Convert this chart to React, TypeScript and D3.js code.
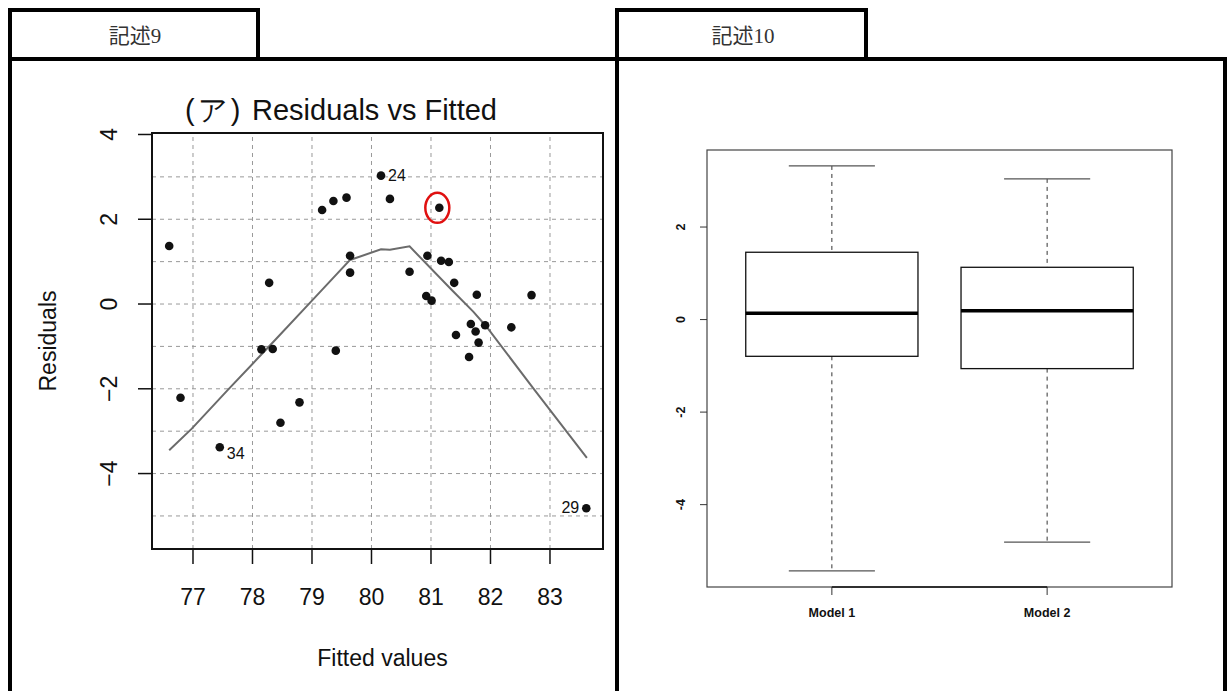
import React from "react";
import * as d3 from "d3";

// residuals vs fitted (left panel)
const fitted = [
  76.6, 76.79, 77.45, 78.15, 78.28, 78.34, 78.47, 78.79, 79.17, 79.36, 79.4,
  79.58, 79.64, 79.64, 80.16, 80.31, 80.64, 80.92, 80.94, 81.01, 81.14, 81.17,
  81.3, 81.39, 81.42, 81.64, 81.67, 81.75, 81.77, 81.8, 81.91, 82.35, 82.69,
  83.61,
];
const residuals = [
  1.37, -2.21, -3.38, -1.07, 0.5, -1.06, -2.8, -2.32, 2.22, 2.43, -1.1, 2.51,
  1.14, 0.74, 3.03, 2.48, 0.76, 0.19, 1.14, 0.08, 2.27, 1.02, 0.99, 0.5, -0.73,
  -1.25, -0.47, -0.65, 0.22, -0.91, -0.5, -0.55, 0.21, -4.82,
];
const pointLabels = [
  { i: 14, text: "24" },
  { i: 2, text: "34" },
  { i: 33, text: "29" },
];
const circled = 20;
const smoothX = [
  76.6, 76.98, 77.59, 78.38, 78.98, 79.64, 80.16, 80.31, 80.64, 81.35, 81.71,
  81.93, 82.72, 83.62,
];
const smoothY = [
  -3.45, -2.94, -2.02, -0.85, 0.05, 1.04, 1.29, 1.28, 1.36, 0.33, -0.18, -0.53,
  -1.99, -3.63,
];
const xTicksL = [77, 78, 79, 80, 81, 82, 83];
const yTicksL = [-4, -2, 0, 2, 4];
const yGridL = [-5, -4, -3, -2, -1, 0, 1, 2, 3];

// boxplot (right panel)
const models = ["Model 1", "Model 2"];
const whiskerHigh = [3.32, 3.04];
const q3 = [1.455, 1.13];
const medians = [0.136, 0.19];
const q1 = [-0.794, -1.06];
const whiskerLow = [-5.43, -4.81];
const yTicksR = [-4, -2, 0, 2];

const SANS = "'Liberation Sans', Arial, Helvetica, sans-serif";
const HEAD = "'Liberation Serif', 'Noto Sans CJK JP', serif";

const Frames = () => (
  <g fill="none" stroke="#000" strokeWidth={4}>
    <rect x={10} y={10} width={248} height={49} />
    <rect x={10} y={59} width={607} height={660} />
    <rect x={617} y={10} width={249} height={49} />
    <rect x={617} y={59} width={608} height={660} />
    <text x={135} y={43} fontFamily={HEAD} fontSize={21} fill="#333" stroke="none" textAnchor="middle">
      記述9
    </text>
    <text x={743} y={43} fontFamily={HEAD} fontSize={21} fill="#333" stroke="none" textAnchor="middle">
      記述10
    </text>
  </g>
);

const ResidualPlot = () => {
  const x = d3.scaleLinear().domain([76.311, 83.891]).range([152, 603]);
  const y = d3.scaleLinear().domain([-5.78, 4.035]).range([549, 133]);
  const [x0, x1] = x.range();
  const [y0, y1] = y.range();
  const line = d3
    .line<number>()
    .x((d, i) => x(smoothX[i]))
    .y((d, i) => y(smoothY[i]));
  const fmt = (v: number) => (v < 0 ? "\u2212" + Math.abs(v) : String(v));

  return (
    <g fontFamily={SANS}>
      <text x={185} y={120} fontSize={29} fill="#111">
        <tspan letterSpacing={3}>(ア)</tspan>
        <tspan x={252}>Residuals vs Fitted</tspan>
      </text>
      {xTicksL.map((t) => (
        <line key={"gx" + t} x1={x(t)} x2={x(t)} y1={y0} y2={y1} stroke="#999" strokeDasharray="4,4" />
      ))}
      {yGridL.map((t) => (
        <line key={"gy" + t} x1={x0} x2={x1} y1={y(t)} y2={y(t)} stroke="#999" strokeDasharray="4,4" />
      ))}
      <path d={line(smoothX) || ""} fill="none" stroke="#6b6b6b" strokeWidth={2} />
      {fitted.map((f, i) => (
        <circle key={i} cx={x(f)} cy={y(residuals[i])} r={4.3} fill="#111" />
      ))}
      {pointLabels.map((p) => {
        const px = x(fitted[p.i]);
        const py = y(residuals[p.i]);
        const left = p.text === "29";
        const below = p.text === "34";
        return (
          <text
            key={p.text}
            x={left ? px - 7 : px + 7}
            y={below ? py + 12 : py + 5}
            fontSize={16}
            textAnchor={left ? "end" : "start"}
            fill="#111"
          >
            {p.text}
          </text>
        );
      })}
      <ellipse
        cx={x(fitted[circled]) - 2}
        cy={y(residuals[circled])}
        rx={12}
        ry={15}
        fill="none"
        stroke="#e01010"
        strokeWidth={2.5}
      />
      <rect x={x0} y={y1} width={x1 - x0} height={y0 - y1} fill="none" stroke="#111" strokeWidth={2} />
      {xTicksL.map((t) => (
        <g key={"tx" + t}>
          <line x1={x(t)} x2={x(t)} y1={y0} y2={y0 + 15} stroke="#111" strokeWidth={1.5} />
          <text x={x(t)} y={y0 + 56} fontSize={23} textAnchor="middle" fill="#111">
            {t}
          </text>
        </g>
      ))}
      {yTicksL.map((t) => (
        <g key={"ty" + t}>
          <line x1={x0 - 14} x2={x0} y1={y(t)} y2={y(t)} stroke="#111" strokeWidth={1.5} />
          <text
            transform={`translate(${x0 - 35},${y(t)}) rotate(-90)`}
            fontSize={23}
            textAnchor="middle"
            fill="#111"
          >
            {fmt(t)}
          </text>
        </g>
      ))}
      <text x={(x0 + x1) / 2 + 5} y={666} fontSize={23} textAnchor="middle" fill="#111">
        Fitted values
      </text>
      <text transform={`translate(56,${(y0 + y1) / 2})rotate(-90)`} fontSize={23} textAnchor="middle" fill="#111">
        Residuals
      </text>
    </g>
  );
};

const BoxPlot = () => {
  const y = d3.scaleLinear().domain([-5.78, 3.665]).range([587, 150]);
  const x = d3.scaleLinear().domain([0.42, 2.58]).range([707, 1172]);
  const [x0, x1] = x.range();
  const [y0, y1] = y.range();
  const half = x(1.4) - x(1);
  const cap = x(1.2) - x(1);

  return (
    <g fontFamily={SANS}>
      {models.map((m, i) => {
        const cx = x(i + 1);
        return (
          <g key={m}>
            <line x1={cx} x2={cx} y1={y(whiskerHigh[i])} y2={y(q3[i])} stroke="#333" strokeDasharray="4,4" />
            <line x1={cx} x2={cx} y1={y(q1[i])} y2={y(whiskerLow[i])} stroke="#333" strokeDasharray="4,4" />
            <line x1={cx - cap} x2={cx + cap} y1={y(whiskerHigh[i])} y2={y(whiskerHigh[i])} stroke="#555" strokeWidth={1.3} />
            <line x1={cx - cap} x2={cx + cap} y1={y(whiskerLow[i])} y2={y(whiskerLow[i])} stroke="#555" strokeWidth={1.3} />
            <rect
              x={cx - half}
              y={y(q3[i])}
              width={2 * half}
              height={y(q1[i]) - y(q3[i])}
              fill="#fff"
              stroke="#111"
              strokeWidth={1.3}
            />
            <line x1={cx - half} x2={cx + half} y1={y(medians[i])} y2={y(medians[i])} stroke="#000" strokeWidth={3.5} />
            <line x1={cx} x2={cx} y1={y0} y2={y0 + 8} stroke="#333" />
            <text x={cx} y={y0 + 30} fontSize={12.5} fontWeight="bold" textAnchor="middle" fill="#111">
              {m}
            </text>
          </g>
        );
      })}
      <rect x={x0} y={y1} width={x1 - x0} height={y0 - y1} fill="none" stroke="#444" strokeWidth={1.2} />
      <line x1={x(1)} x2={x(2)} y1={y0} y2={y0} stroke="#111" strokeWidth={1.5} />
      {yTicksR.map((t) => (
        <g key={t}>
          <line x1={x0 - 7} x2={x0} y1={y(t)} y2={y(t)} stroke="#333" />
          <text
            transform={`translate(${x0 - 22},${y(t)}) rotate(-90)`}
            fontSize={12.5}
            fontWeight="bold"
            textAnchor="middle"
            fill="#111"
          >
            {String(t)}
          </text>
        </g>
      ))}
    </g>
  );
};

export default function App() {
  return (
    <svg
      width={1229}
      height={691}
      style={{ position: "absolute", left: 0, top: 0, background: "#fff" }}
    >
      <rect width={1229} height={691} fill="#fff" />
      <ResidualPlot />
      <BoxPlot />
      <Frames />
    </svg>
  );
}
